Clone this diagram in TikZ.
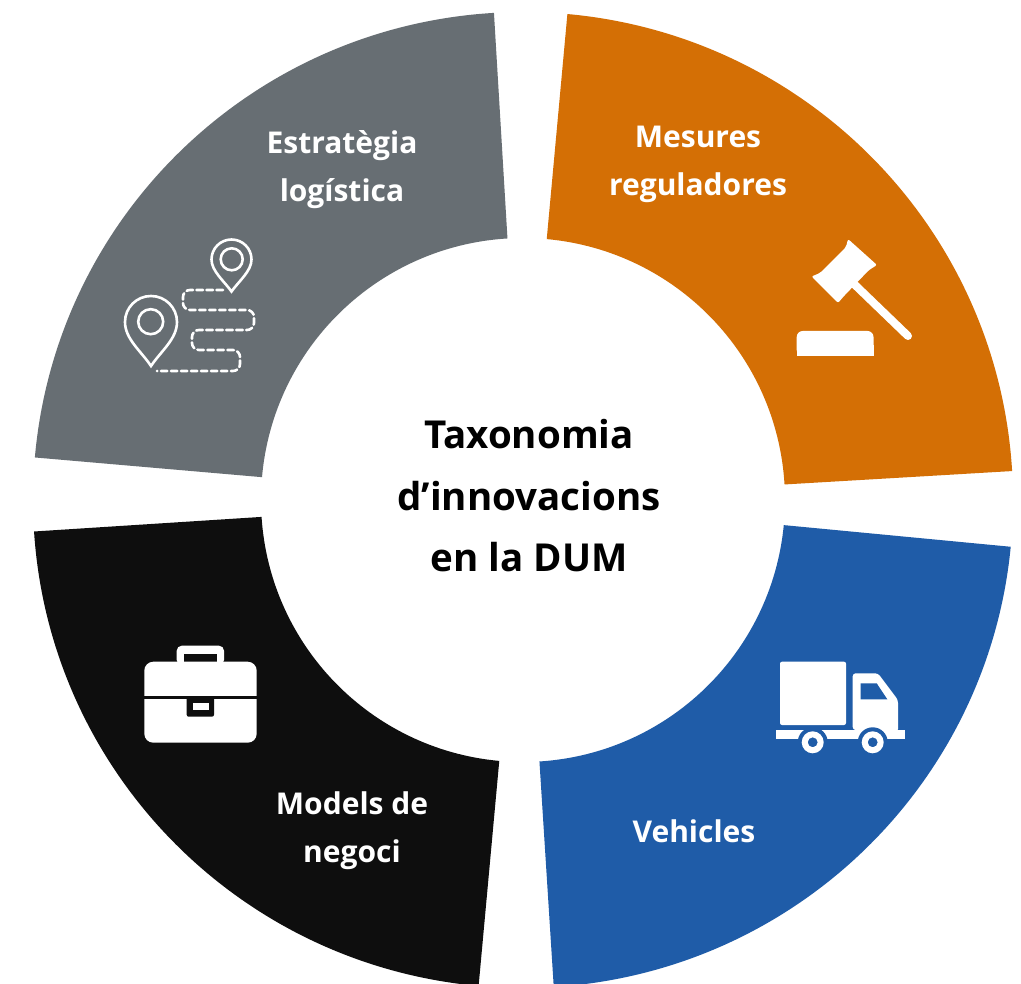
\documentclass[tikz,border=0pt]{standalone}
\usepackage{fontspec}
\setmainfont{Open Sans}
\definecolor{cgray}{HTML}{676E73}
\definecolor{corange}{HTML}{D46F05}
\definecolor{cblue}{HTML}{1F5CA8}
\definecolor{cblack}{HTML}{0E0E0E}
\newcommand{\ringsector}[3]{%
  \fill[#1] (#2:490pt and 488pt) arc[start angle=#2,end angle=#3,x radius=490pt,y radius=488pt]
    -- (#3:262pt) arc[start angle=#3,end angle=#2,radius=262pt] -- cycle;}
\tikzset{
  seclabel/.style={text=white,font=\fontsize{30}{48}\selectfont\bfseries,align=center,inner sep=0pt},
  midlabel/.style={text=black,font=\fontsize{38.5}{61.5}\selectfont\bfseries,align=center,inner sep=0pt},
  iconline/.style={draw=white,line width=2.6pt,fill=none},
  pathdash/.style={draw=white,line width=2.6pt,dash pattern=on 6.5pt off 3.5pt,line cap=round,rounded corners=7pt},
}
\begin{document}
\begin{tikzpicture}[x=1pt,y=-1pt]
\useasboundingbox (0,0) rectangle (1021,984);
\fill[white] (0,0) rectangle (1021,984);
\begin{scope}
\clip (0,0) rectangle (1021,984);
\begin{scope}[shift={(523pt,-500pt)},y=1pt]
\ringsector{corange}{84.8}{3.4}
\ringsector{cblue}{-5.5}{-86.4}
\ringsector{cblack}{-95.2}{-176.3}
\ringsector{cgray}{175}{93.4}
\end{scope}
\end{scope}

\node[midlabel] (title) at (529,496) {Taxonomia\\d’innovacions\\en la DUM};
\node[seclabel] (l1) at (342,170) {Estratègia\\logística};
\node[seclabel] (l2) at (698,164) {Mesures\\reguladores};
\node[seclabel] (l3) at (694,831) {Vehicles};
\node[seclabel] (l4) at (352,831) {Models de\\negoci};

% route icon
\draw[iconline] (231.5,291.5) .. controls (224,281) and (211.5,271) .. (211.5,259.5)
  arc[start angle=180,end angle=0,radius=20pt]
  .. controls (251.5,271) and (239,281) .. cycle;
\draw[iconline] (231.7,259.3) circle[radius=11pt];
\draw[iconline] (151,366) .. controls (141,351) and (125,339) .. (125,322)
  arc[start angle=180,end angle=0,radius=26pt]
  .. controls (177,339) and (161,351) .. cycle;
\draw[iconline] (150.7,321.7) circle[radius=12.5pt];
\draw[pathdash] (223,290) -- (183,290) -- (183,310) -- (254,310) -- (254,330) -- (192,330) -- (192,350) -- (240,350) -- (240,371) -- (157,371);

% gavel icon
\fill[white,rounded corners=2pt] (811.5,276.5) -- (820,273) -- (846,247) -- (848,239) -- (877,265) -- (869,270) -- (844,296) -- (838,303) -- cycle;
\draw[white,line width=8pt,line cap=round] (853,283) -- (908,336);
\fill[white,rounded corners=6pt] (796.7,356) -- (796.7,331) -- (873.5,331) -- (873.5,356) -- cycle;
\fill[white] (796.7,345) rectangle (873.5,356);

% truck icon
\fill[white,rounded corners=2pt] (780,661.7) rectangle (846,725);
\fill[white,rounded corners=3pt] (852.7,730) -- (852.7,673.3) -- (878,673.3) -- (898,700) -- (898,732) -- cycle;
\fill[white] (775.7,730) rectangle (905.3,739.3);
\fill[cblue] (860.7,683.3) -- (876.7,683.3) -- (887.3,699.3) -- (860.7,699.3) -- cycle;
\fill[cblue] (812.7,742.3) circle[radius=15pt];
\fill[cblue] (872.7,742.3) circle[radius=15pt];
\fill[white,even odd rule] (812.7,742.3) circle[radius=11pt] (812.7,742.3) circle[radius=5pt];
\fill[white,even odd rule] (872.7,742.3) circle[radius=11pt] (872.7,742.3) circle[radius=5pt];

% briefcase icon
\fill[white,rounded corners=5pt] (176.7,665) -- (176.7,645.7) -- (224,645.7) -- (224,665) -- cycle;
\fill[cblack] (184.3,654) rectangle (216.7,662.7);
\fill[white,rounded corners=9pt] (144.3,661.7) rectangle (256.7,742.7);
\fill[cblack] (144.3,695.5) rectangle (256.7,698.5);
\fill[cblack,rounded corners=2pt] (186.7,696) rectangle (214,716.7);
\fill[white] (192.7,702.7) rectangle (209,710);
\end{tikzpicture}
\end{document}
